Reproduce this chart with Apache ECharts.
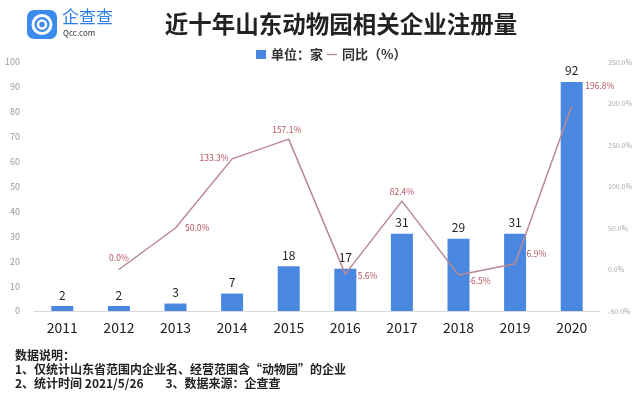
<!DOCTYPE html>
<html>
<head>
<meta charset="utf-8">
<script src="https://cdn.jsdelivr.net/npm/echarts@6/dist/echarts.min.js"></script>
<style>
  html, body { margin: 0; padding: 0; background: #fff; }
  #main { width: 640px; height: 396px; }
</style>
</head>
<body>
<div id="main"></div>
<script>
const years = ['2011', '2012', '2013', '2014', '2015', '2016', '2017', '2018', '2019', '2020'];
const counts = [2, 2, 3, 7, 18, 17, 31, 29, 31, 92];
const yoy = [null, 0.0, 50.0, 133.3, 157.1, -5.6, 82.4, -6.5, 6.9, 196.8];
const yoyLabelPos = [null, 'top', 'right', 'left', 'top', 'right', 'top', 'right', 'right', 'right'];

const chart = echarts.init(document.getElementById('main'));
const font = '"Noto Sans CJK SC", "Noto Sans", sans-serif';

const labelOffsets = [null, [0, -2], [4, 0], [2, -1], [-2, 0], [4, 2], [0, 0], [4, 6], [6, -10], [8, -20]];

const lineData = yoy.map(function (v, i) {
    if (v === null) return '-';
    return {
        value: v,
        label: {
            show: true,
            position: yoyLabelPos[i],
            offset: labelOffsets[i],
            fontSize: 8.5,
            color: '#b5525e',
            formatter: v.toFixed(1) + '%'
        }
    };
});

const options = {
    backgroundColor: '#fff',
    textStyle: { fontFamily: font },
    title: {
        text: '近十年山东动物园相关企业注册量',
        left: 336,
        textAlign: 'center',
        top: 7,
        textStyle: { fontSize: 23.5, fontWeight: 'bold', color: '#222', fontFamily: font }
    },
    legend: {
        data: [
            { name: '单位：家', icon: 'rect' },
            { name: '同比（%）', icon: 'path://M0,0 L12,0 L12,1.6 L0,1.6 Z' }
        ],
        top: 43,
        left: 251,
        itemGap: 4,
        itemWidth: 10,
        itemHeight: 9,
        textStyle: { fontSize: 13, fontWeight: 'bold', color: '#333' }
    },
    grid: { left: 34, right: 40, top: 62, bottom: 85 },
    xAxis: {
        type: 'category',
        data: years,
        axisTick: { show: false },
        axisLine: { lineStyle: { color: '#d9d9d9' } },
        axisLabel: { fontSize: 14, color: '#222', margin: 10 }
    },
    yAxis: [
        {
            type: 'value',
            min: 0, max: 100, interval: 10,
            splitLine: { show: false },
            axisLabel: { fontSize: 9, color: '#999', margin: 14 }
        },
        {
            type: 'value',
            min: -50, max: 250, interval: 50,
            splitLine: { show: false },
            axisLabel: {
                fontSize: 7, color: '#aaa', margin: 8,
                formatter: function (v) { return v.toFixed(1) + '%'; }
            }
        }
    ],
    series: [
        {
            name: '单位：家',
            type: 'bar',
            data: counts,
            barWidth: 22,
            itemStyle: { color: '#4a87e0' },
            label: { show: true, position: 'top', fontSize: 12, color: '#222' }
        },
        {
            name: '同比（%）',
            type: 'line',
            yAxisIndex: 1,
            data: lineData,
            symbol: 'circle',
            symbolSize: 1,
            showSymbol: true,
            lineStyle: { color: '#b88a90', width: 1.5 },
            itemStyle: { color: '#b88a90' },
            label: { show: true, fontSize: 8.5, color: '#b5525e' }
        }
    ],
    graphic: [
        {
            type: 'rect',
            shape: { x: 27, y: 10, width: 30, height: 29, r: 7 },
            style: { fill: '#3b8bee' }
        },
        {
            type: 'circle',
            shape: { cx: 42, cy: 24.5, r: 9 },
            style: { fill: 'none', stroke: '#fff', lineWidth: 3 }
        },
        {
            type: 'circle',
            shape: { cx: 42, cy: 24.5, r: 4 },
            style: { fill: 'none', stroke: '#fff', lineWidth: 2.5 }
        },
        {
            type: 'text',
            left: 62, top: 8,
            style: { text: '企查查', fontSize: 17, fill: '#2b7ee4', fontFamily: font }
        },
        {
            type: 'text',
            left: 63, top: 29,
            style: { text: 'Qcc.com', fontSize: 8, fill: '#333', fontFamily: font }
        },
        {
            type: 'text',
            left: 15, top: 348,
            style: {
                text: '数据说明：\n1、仅统计山东省范围内企业名、经营范围含“动物园”的企业\n2、统计时间 2021/5/26        3、数据来源：企查查',
                fontSize: 12, lineHeight: 14, fontWeight: 'bold', fill: '#222', fontFamily: font
            }
        }
    ]
};
chart.setOption(options);
</script>
</body>
</html>
